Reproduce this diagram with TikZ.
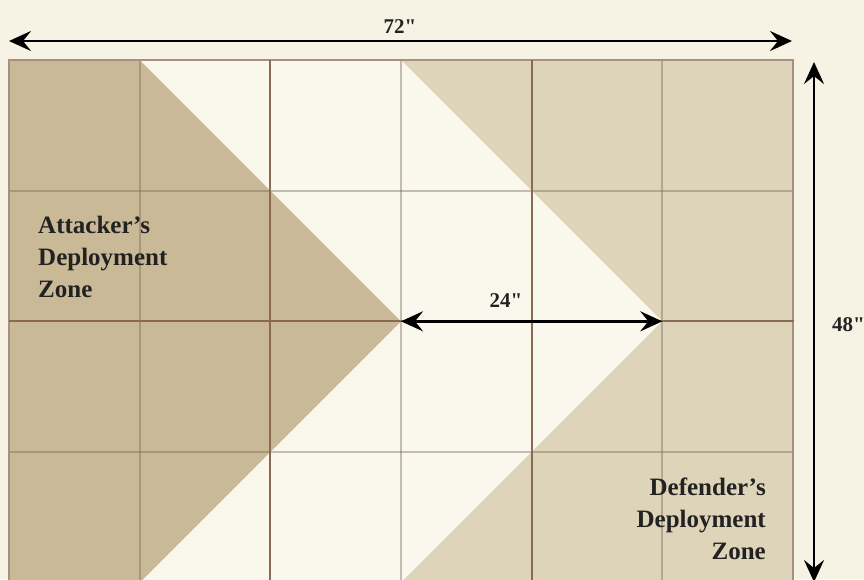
\documentclass[tikz,border=0pt]{standalone}
\usepackage{fontspec}
\setmainfont{Liberation Serif}[Ligatures=TeXOff]
\usetikzlibrary{arrows.meta}

\definecolor{paper}{HTML}{F6F3E4}
\definecolor{cell}{HTML}{FAF8EC}
\definecolor{attack}{HTML}{C9B996}
\definecolor{defend}{HTML}{DED4B9}
\definecolor{rule}{HTML}{8A6A52}
\definecolor{faint}{HTML}{7A6A5A}
\definecolor{edge}{HTML}{A89080}
\definecolor{ink}{HTML}{222222}

\begin{document}
\begin{tikzpicture}[x=1pt,y=-1pt,
  dimtip/.tip={Stealth[length=22pt,width=20pt,inset=8pt]},
  dimline/.style={line width=2.9pt,black,dimtip-dimtip},
  minorline/.style={faint,opacity=0.42,line width=2.2pt},
  majorline/.style={rule,line width=2.2pt},
  zonelabel/.style={font=\fontsize{25}{32}\selectfont\bfseries,text=ink,inner sep=0pt},
  measure/.style={font=\fontsize{21}{24}\selectfont\bfseries,text=ink,inner sep=0pt}]
\def\cw{130.667}
\clip (0,0) rectangle (864,579);
\fill[paper] (0,0) rectangle (864,579);

% board corners
\coordinate (nw) at (9,60);
\coordinate (ne) at (793,60);
\coordinate (se) at (793,582.7);
\coordinate (sw) at (9,582.7);
\coordinate (mid) at (401,321.3);
\coordinate (apex) at (662.3,321.3);

% table surface
\fill[cell] (nw) rectangle (se);

% deployment zones
\fill[attack] (nw) -- ({9+\cw},60) -- (mid) -- ({9+\cw},582.7) -- (sw) -- cycle;
\fill[defend] (401,60) -- (ne) -- (se) -- (401,582.7) -- (apex) -- cycle;

% 12" grid
\foreach \i in {1,3,5} \draw[minorline] ({9+\i*\cw},60) -- ({9+\i*\cw},582.7);
\foreach \j in {1,3} \draw[minorline] (9,{60+\j*\cw}) -- (793,{60+\j*\cw});
\draw[edge,line width=2.2pt] (sw) -- (nw) -- (ne) -- (se);
\foreach \i in {2,4} \draw[majorline] ({9+\i*\cw},60) -- ({9+\i*\cw},582.7);
\draw[majorline] (9,321.3) -- (794,321.3);

% zone labels (base anchor sits on the last line)
\node[zonelabel,align=left,anchor=base west] (atk) at (38,297)
  {Attacker’s\\Deployment\\Zone};
\node[zonelabel,align=right,anchor=base east] (def) at (766,559)
  {Defender’s\\Deployment\\Zone};

% dimensions
\coordinate (wl) at (9,41);
\coordinate (wr) at (792,41);
\draw[dimline] (wl) -- (wr);
\node[measure,anchor=base] (w72) at (400,33) {72"};

\coordinate (ht) at (814,62);
\coordinate (hb) at (814,582);
\draw[dimline] (ht) -- (hb);
\node[measure,anchor=base west] (h48) at (832,331) {48"};

\draw[dimline] (mid) -- (apex);
\node[measure,anchor=base] (d24) at (506,307) {24"};
\end{tikzpicture}
\end{document}
